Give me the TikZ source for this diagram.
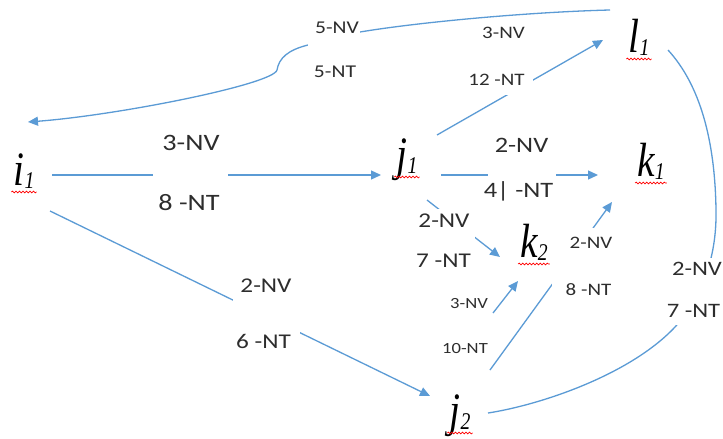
\documentclass[tikz,border=0pt]{standalone}
\usepackage{fontspec}
\usetikzlibrary{arrows.meta,decorations.pathmorphing}
\newfontfamily\labfont[FakeStretch=1.2]{Carlito}
\newfontfamily\ndfont[FakeStretch=0.82]{Liberation Serif}
\definecolor{edgeblue}{RGB}{91,155,213}
\definecolor{labgray}{RGB}{45,45,45}
\newcommand\ndtext[2]{{\ndfont\itshape\fontsize{48}{48}\selectfont #1}{\ndfont\itshape\fontsize{24}{24}\selectfont\raisebox{-3pt}{#2}}}
\begin{document}
\begin{tikzpicture}[x=1pt,y=-1pt,
  vert/.style={inner sep=0pt, anchor=base},
  lab/.style={inner sep=0pt, anchor=base, text=labgray, font=\labfont\fontsize{#1}{#1}\selectfont},
  edge/.style={draw=edgeblue, line width=1.3pt},
  arr/.style={edge, -{Triangle[length=10pt,width=9pt]}},
  squig/.style={draw=red, line width=0.7pt, decorate, decoration={snake, amplitude=0.9pt, segment length=3.5pt}},
  cover/.style={fill=white}]
\useasboundingbox (0,0) rectangle (723,439);
\fill[white] (0,0) rectangle (723,439);
% vertices
\node[vert] (i1) at (24,185) {\ndtext{i}{1}};
\node[vert] (j1) at (407,170) {\ndtext{j}{1}};
\node[vert] (k1) at (651,176) {\ndtext{k}{1}};
\node[vert] (l1) at (639,52) {\ndtext{l}{1}};
\node[vert] (k2) at (534,257) {\ndtext{k}{2}};
\node[vert] (j2) at (460,426) {\ndtext{j}{2}};
\foreach \n in {i1,j1,k1,l1,k2,j2}
  \draw[squig] ([shift={(-2,7)}]\n.base west) -- ([shift={(2,7)}]\n.base east);
% connectors
\draw[arr] ([shift={(-29,-42)}]l1.base) .. controls (530,12) and (420,22) .. (360,32)
  .. controls (340,36) and (320,40) .. (308,45)
  .. controls (288,50) and (279,58) .. (277,70)
  .. controls (274,84) and (120,115) .. ([shift={(4,-63)}]i1.base);
\draw[arr] ([shift={(28,-10)}]i1.base) -- ([shift={(-26,5)}]j1.base);
\draw[arr] ([shift={(30,-35)}]j1.base) -- ([shift={(-36,-12)}]l1.base);
\draw[arr] ([shift={(34,5)}]j1.base) -- ([shift={(-53,-1)}]k1.base);
\draw[arr] ([shift={(20,30)}]j1.base) -- ([shift={(-34,0)}]k2.base);
\draw[arr] ([shift={(26,26)}]i1.base) -- ([shift={(-30,-30)}]j2.base);
\draw[arr] ([shift={(33,-113)}]j2.base) -- ([shift={(-16,24)}]k2.base);
\draw[arr] ([shift={(30,-56)}]j2.base) -- ([shift={(-39,26)}]k1.base);
\draw[edge] ([shift={(29,-2)}]l1.base) .. controls (700,85) and (715,140) .. (716,210)
  .. controls (717,260) and (700,300) .. (675,327)
  .. controls (630,375) and (540,405) .. ([shift={(28,-13)}]j2.base);
% label boxes (white, covering the connectors)
\fill[cover] (308,15) rectangle (360,85);
\fill[cover] (465,25) rectangle (533,95);
\fill[cover] (153,128) rectangle (228,218);
\fill[cover] (488,135) rectangle (556,200);
\fill[cover] (416,209) rectangle (475,272);
\fill[cover] (552,228) rectangle (616,300);
\fill[cover] (668,258) rectangle (723,325);
\fill[cover] (233,270) rectangle (300,355);
% labels
\node[lab=18] (la1) at (337,33) {5-NV};
\node[lab=18] (la2) at (335,77) {5-NT};
\node[lab=17.5] (lb1) at (503.5,38) {3-NV};
\node[lab=17.5] (lb2) at (496.5,85) {12 -NT};
\node[lab=23.5] (lc1) at (191,150) {3-NV};
\node[lab=23.5] (lc2) at (189,210) {8 -NT};
\node[lab=22] (ld1) at (521.5,152) {2-NV};
\node[lab=22] (ld2) at (518.5,197) {4| -NT};
\node[lab=21] (le1) at (444,227) {2-NV};
\node[lab=21] (le2) at (443.5,267) {7 -NT};
\node[lab=17.5] (lg1) at (591,248) {2-NV};
\node[lab=17.5] (lg2) at (588.5,295) {8 -NT};
\node[lab=15.5] (lf1) at (469,308) {3-NV};
\node[lab=15.5] (lf2) at (465,353) {10-NT};
\node[lab=21] (li1) at (266,292) {2-NV};
\node[lab=21] (li2) at (263.5,348) {6 -NT};
\node[lab=20.5] (lh1) at (697,275) {2-NV};
\node[lab=20.5] (lh2) at (693.5,317) {7 -NT};
\end{tikzpicture}
\end{document}
